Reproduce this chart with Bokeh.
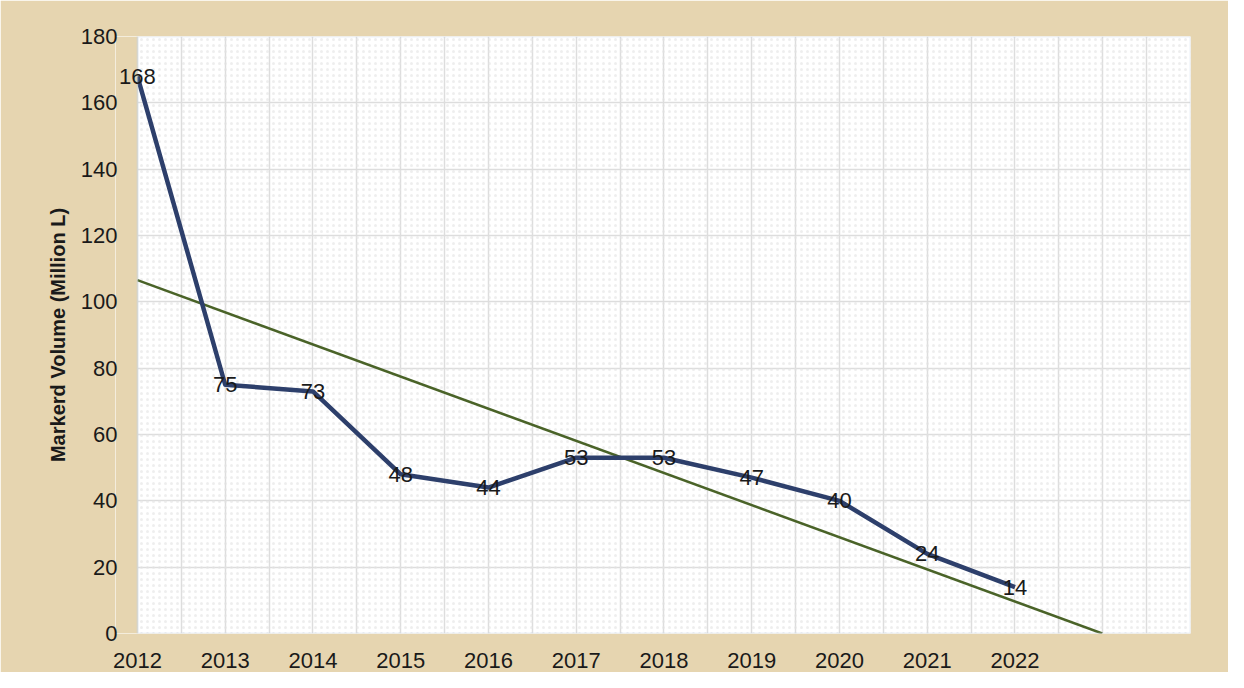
import numpy as np
from bokeh.plotting import figure
from bokeh.models import ColumnDataSource, FixedTicker, BoxAnnotation, Label
from bokeh.embed import file_html
from bokeh.resources import INLINE

years = [2012, 2013, 2014, 2015, 2016, 2017, 2018, 2019, 2020, 2021, 2022]
volume = [168, 75, 73, 48, 44, 53, 53, 47, 40, 24, 14]
y_ticks = [0, 20, 40, 60, 80, 100, 120, 140, 160, 180]
y_title = "Markerd Volume (Million L)"

FONT = "Liberation Sans"
BEIGE = "#E6D5B0"
X0, X1 = 2012, 2024
PAD = 0.25  # room left of the plot area so the first data label is not clipped

p = figure(width=1228, height=672, output_backend="svg", toolbar_location=None,
           x_range=(X0 - PAD, X1), y_range=(0, 180),
           min_border_left=115, min_border_right=38, min_border_top=36, min_border_bottom=39)
p.background_fill_color = "white"
p.border_fill_color = BEIGE
p.outline_line_color = None

# dotted pattern in plot area
p.add_layout(BoxAnnotation(left=X0, right=X1, bottom=0, top=180, fill_alpha=0,
                           line_alpha=0, hatch_pattern="dot", hatch_color="#E2E2E2",
                           hatch_scale=6, hatch_alpha=0.6, level="underlay"))

p.xgrid.ticker = FixedTicker(ticks=list(np.arange(X0, X1 + 0.01, 0.5)))
p.ygrid.ticker = FixedTicker(ticks=y_ticks)
p.xgrid.grid_line_color = "#DDDDDD"
p.ygrid.grid_line_color = "#DDDDDD"
p.xgrid.grid_line_width = 1.5
p.ygrid.grid_line_width = 1.5

# cover the padding strip with the page colour, then draw the plot-area border
p.add_layout(BoxAnnotation(right=X0, fill_color=BEIGE, fill_alpha=1, line_alpha=0,
                           level="glyph"))
p.add_layout(BoxAnnotation(left=X0, right=X1, bottom=0, top=180, fill_alpha=0,
                           line_color="#BCD2E8", line_width=2, level="glyph"))

p.xaxis.ticker = FixedTicker(ticks=years)
p.yaxis.ticker = FixedTicker(ticks=y_ticks)
for ax in (p.xaxis, p.yaxis):
    ax.axis_line_color = None
    ax.major_tick_line_color = None
    ax.minor_tick_line_color = None
    ax.major_label_text_font = FONT
    ax.major_label_text_font_size = "22px"
    ax.major_label_text_color = "#1a1a1a"
p.xaxis.major_label_standoff = 13
p.yaxis.major_label_standoff = -8
p.yaxis.axis_label = y_title
p.yaxis.axis_label_text_font = FONT
p.yaxis.axis_label_text_font_style = "bold"
p.yaxis.axis_label_text_font_size = "20px"
p.yaxis.axis_label_text_color = "#1a1a1a"
p.yaxis.axis_label_standoff = 9

# linear trendline from data
slope, intercept = np.polyfit(np.array(years) - X0, volume, 1)
xs_t = [X0, X0 + (-intercept / slope)]
ys_t = [intercept, 0]
p.line(xs_t, ys_t, line_color="#4A6328", line_width=2.5)

src = ColumnDataSource(dict(x=years, y=volume))
p.line("x", "y", source=src, line_color="#2D3F6B", line_width=4.5, line_join="round")
for xv, yv in zip(years, volume):
    p.add_layout(Label(x=xv, y=yv, text=str(yv), text_align="center",
                       text_baseline="middle", text_font=FONT, text_font_size="22px",
                       text_color="#1a1a1a"))

open("out.html", "w").write(file_html(p, INLINE))
